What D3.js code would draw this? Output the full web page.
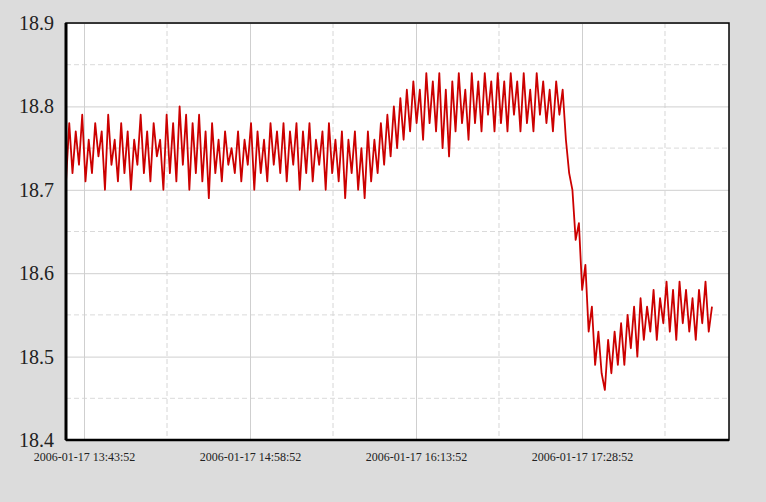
<!DOCTYPE html>
<html>
<head>
<meta charset="utf-8">
<script src="https://cdn.jsdelivr.net/npm/d3@7"></script>
<style>
  body { margin: 0; background: #dcdcdc; }
  .yTick { font-family: "Liberation Serif", "DejaVu Serif", serif; font-size: 20px; fill: #222; }
  .xTick { font-family: "Liberation Serif", "DejaVu Serif", serif; font-size: 12px; fill: #222; }
</style>
</head>
<body>
<div id="chart"></div>
<script>
// sample readings, one every 88 seconds from the start time
var startTime = "2006-01-17 13:35:44";
var sampleSeconds = 88;
var readings = [
    // 13:35 - 14:25
    18.71, 18.78, 18.72, 18.77, 18.73, 18.79, 18.71, 18.76, 18.72, 18.78, 18.74, 18.77, 18.70, 18.79, 18.73, 18.76,
    18.71, 18.78, 18.72, 18.77, 18.70, 18.76, 18.73, 18.79, 18.72, 18.77, 18.71, 18.78, 18.74, 18.76, 18.70, 18.79, 18.72,
    // 14:25 - 15:15
    18.78, 18.71, 18.80, 18.73, 18.79, 18.70, 18.78, 18.72, 18.79, 18.71, 18.77, 18.69, 18.78, 18.72, 18.76, 18.71,
    18.77, 18.73, 18.75, 18.72, 18.77, 18.71, 18.76, 18.73, 18.78, 18.70, 18.77, 18.72, 18.76, 18.71, 18.78, 18.73, 18.77,
    // 15:15 - 16:05
    18.72, 18.78, 18.71, 18.77, 18.73, 18.78, 18.70, 18.77, 18.72, 18.78, 18.71, 18.76, 18.73, 18.77, 18.70, 18.78, 18.72,
    18.76, 18.71, 18.77, 18.69, 18.76, 18.72, 18.77, 18.70, 18.75, 18.69, 18.77, 18.71, 18.76, 18.72, 18.78, 18.73, 18.79,
    // 16:05 - 16:55
    18.74, 18.80, 18.75, 18.81, 18.76, 18.82, 18.77, 18.83, 18.78, 18.82, 18.76, 18.84, 18.78, 18.83, 18.77, 18.84, 18.75,
    18.82, 18.74, 18.83, 18.77, 18.84, 18.78, 18.82, 18.76, 18.84, 18.78, 18.83, 18.77, 18.84, 18.79, 18.83, 18.77, 18.84,
    // 16:55 - 17:25
    18.78, 18.83, 18.77, 18.84, 18.79, 18.83, 18.77, 18.84, 18.78, 18.82, 18.77, 18.84, 18.79, 18.83, 18.78, 18.82,
    18.77, 18.83, 18.79, 18.82,
    // drop
    18.76, 18.72, 18.70, 18.64, 18.66, 18.58, 18.61, 18.53, 18.56, 18.49, 18.53, 18.48, 18.46,
    // recovery
    18.52, 18.48, 18.53, 18.49, 18.54, 18.49, 18.55, 18.51, 18.56, 18.50, 18.57, 18.52, 18.56, 18.53, 18.58, 18.52,
    18.57, 18.54, 18.59, 18.53, 18.58, 18.52, 18.59, 18.54, 18.58, 18.53, 18.57, 18.52, 18.58, 18.54, 18.59, 18.53, 18.56
];

var xTickLabels = ["2006-01-17 13:43:52", "2006-01-17 14:58:52", "2006-01-17 16:13:52", "2006-01-17 17:28:52"];
var yTicks = [18.4, 18.5, 18.6, 18.7, 18.8, 18.9];
var xStart = "2006-01-17 13:35:44";
var xEnd = "2006-01-17 18:35:17";

var svgWidth = 766;
var svgHeight = 502;
var margin = {
    top: 23,
    right: 37,
    bottom: 62,
    left: 66
};

var width = svgWidth - margin.left - margin.right;
var height = svgHeight - margin.top - margin.bottom;

var parseTime = d3.timeParse("%Y-%m-%d %H:%M:%S");
var t0 = parseTime(startTime);

var data = readings.map(function(v, i) {
    return { time: new Date(t0.getTime() + i * sampleSeconds * 1000), value: v };
});

var svg = d3.select("#chart")
    .append("svg")
    .attr("width", svgWidth)
    .attr("height", svgHeight);

var chartGroup = svg.append("g")
    .attr("transform", `translate(${margin.left}, ${margin.top})`);

var xTimeScale = d3.scaleTime()
    .domain([parseTime(xStart), parseTime(xEnd)])
    .range([0, width]);

var yLinearScale = d3.scaleLinear()
    .domain([18.4, 18.9])
    .range([height, 0]);

// plot background
chartGroup.append("rect")
    .attr("width", width)
    .attr("height", height)
    .attr("fill", "#fff");

// grid: major solid, minor dashed (halfway between)
var majorTimes = xTickLabels.map(parseTime);
var minorTimes = majorTimes.map(d => new Date(d.getTime() + 37.5 * 60 * 1000));
var minorValues = yTicks.slice(0, -1).map(d => d + 0.05);

chartGroup.append("g").selectAll("line")
    .data(minorValues)
    .enter()
    .append("line")
    .attr("x1", 0)
    .attr("x2", width)
    .attr("y1", d => yLinearScale(d))
    .attr("y2", d => yLinearScale(d))
    .attr("stroke", "#dadada")
    .attr("stroke-dasharray", "5,3");

chartGroup.append("g").selectAll("line")
    .data(minorTimes)
    .enter()
    .append("line")
    .attr("x1", d => xTimeScale(d))
    .attr("x2", d => xTimeScale(d))
    .attr("y1", 0)
    .attr("y2", height)
    .attr("stroke", "#d6d6d6")
    .attr("stroke-dasharray", "5,3");

var bottomAxis = d3.axisBottom(xTimeScale)
    .tickValues(majorTimes)
    .tickSize(-height)
    .tickFormat(d3.timeFormat("%Y-%m-%d %H:%M:%S"));
var leftAxis = d3.axisLeft(yLinearScale)
    .tickValues(yTicks)
    .tickSize(-width)
    .tickFormat(d3.format(".1f"));

var xAxisG = chartGroup.append("g")
    .attr("transform", `translate(0, ${height})`)
    .call(bottomAxis);
xAxisG.select(".domain").remove();
xAxisG.selectAll("line").attr("stroke", "#cfcfcf");
xAxisG.selectAll("text")
    .attr("class", "xTick")
    .attr("dy", "0.71em")
    .attr("y", 12)
    .attr("font-family", null)
    .attr("font-size", null);

var yAxisG = chartGroup.append("g")
    .call(leftAxis);
yAxisG.select(".domain").remove();
yAxisG.selectAll("line").attr("stroke", "#cfcfcf");
yAxisG.selectAll("text")
    .attr("class", "yTick")
    .attr("x", -12)
    .attr("font-family", null)
    .attr("font-size", null);

// data line
var line = d3.line()
    .x(d => xTimeScale(d.time))
    .y(d => yLinearScale(d.value));

chartGroup.append("path")
    .datum(data)
    .attr("d", line)
    .attr("fill", "none")
    .attr("stroke", "#cc0000")
    .attr("stroke-width", 1.8)
    .attr("stroke-linejoin", "round");

// frame
chartGroup.append("rect")
    .attr("width", width)
    .attr("height", height)
    .attr("fill", "none")
    .attr("stroke", "#000")
    .attr("stroke-width", 1.5);
chartGroup.append("line")
    .attr("x1", 0).attr("x2", 0)
    .attr("y1", 0).attr("y2", height)
    .attr("stroke", "#000")
    .attr("stroke-width", 3);
chartGroup.append("line")
    .attr("x1", 0).attr("x2", width)
    .attr("y1", height).attr("y2", height)
    .attr("stroke", "#000")
    .attr("stroke-width", 2.5);
</script>
</body>
</html>
